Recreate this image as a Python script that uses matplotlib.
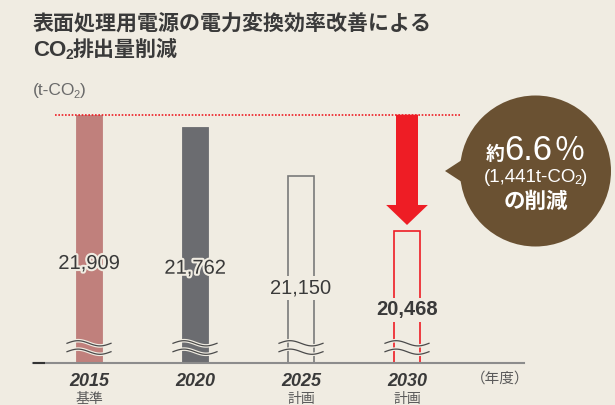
import matplotlib
matplotlib.use("Agg")
import matplotlib.pyplot as plt
import numpy as np
from matplotlib import patheffects as pe
from matplotlib.patches import Circle, Polygon, FancyArrow

# ---------------- data ----------------
years = ["2015", "2020", "2025", "2030"]
sub_labels = ["基準", "", "計画", "計画"]
values = [21909, 21762, 21150, 20468]
title_line1 = "表面処理用電源の電力変換効率改善による"
reduction_pct = "6.6"
reduction_t = "1,441"

# ---------------- style ----------------
BG = "#F0ECE2"
CJK = ["Noto Sans CJK JP", "DejaVu Sans"]
LAT = ["Liberation Sans", "DejaVu Sans"]
TXT = "#3a3a3a"
GRAY = "#5a5a5a"
RED = "#EE1D25"
BROWN = "#6A5132"
fills = ["#C0807C", "#6B6C70", "none", "none"]
edges = ["#C0807C", "#6B6C70", "#7A7A7A", RED]

W, H = 615, 405
fig = plt.figure(figsize=(W / 100, H / 100), dpi=100, facecolor=BG)

# main axes (pixel layout)
AX_L, AX_R, AX_B, AX_T = 32.7, 524.0, 362.7, 60.0
ax = fig.add_axes([AX_L / W, (H - AX_B) / H, (AX_R - AX_L) / W, (AX_B - AX_T) / H])
ax.set_facecolor("none")
base = 18828          # broken-axis baseline value
px_per_unit = 0.0805
slot = 106.0
ax.set_xlim((AX_L - 89) / slot, (AX_R - 89) / slot)
ax.set_ylim(base, base + (AX_B - AX_T) / px_per_unit)
for s in ["top", "right", "left"]:
    ax.spines[s].set_visible(False)
ax.spines["bottom"].set_color("#8C8C8C")
ax.spines["bottom"].set_linewidth(1.5)
ax.spines["bottom"].set_zorder(6)
ax.set_xticks([])
ax.set_yticks([])
ax.plot([0, 12 / (AX_R - AX_L)], [0, 0], transform=ax.transAxes, color="#333333",
        lw=1.5, clip_on=False, zorder=7, solid_capstyle="butt")

x = np.arange(len(years))
bw = 26 / slot
for i, v in enumerate(values):
    if fills[i] == "none":
        ax.bar(x[i], v - base, bottom=base, width=bw, fill=False, edgecolor=edges[i],
               linewidth=1.2, zorder=3)
    else:
        ax.bar(x[i], v - base, bottom=base, width=bw, color=fills[i], edgecolor=edges[i],
               linewidth=0.6, zorder=3)

# value labels
for i, v in enumerate(values):
    ypos = base + 0.4 * (v - base)
    kw = dict(ha="center", va="center", fontsize=14.5, family=LAT, color=TXT, zorder=8)
    if i == 3:
        kw["fontweight"] = "bold"
    if fills[i] == "none":
        kw["bbox"] = dict(boxstyle="square,pad=0.12", fc=BG, ec="none")
    else:
        kw["path_effects"] = [pe.withStroke(linewidth=3, foreground=BG)]
    ax.text(x[i], ypos, f"{v:,}", **kw)

# dotted reference line at 2015 level
ax.plot([(55 - 89) / slot, (460 - 89) / slot], [values[0], values[0]], color=RED,
        lw=1.2, linestyle=(0, (1, 1)), clip_on=False, zorder=4)

# reduction arrow from 2015 level down to 2030 bar
gap = 5.7 / px_per_unit
arr = FancyArrow(x[3], values[0], 0, (values[3] + gap) - values[0], width=22 / slot,
                 head_width=41.7 / slot, head_length=20 / px_per_unit,
                 length_includes_head=True, color=RED, lw=0, zorder=5)
ax.add_patch(arr)

# year labels
def ypx_to_axes(py):
    return (AX_B - py) / (AX_B - AX_T)

for i, yr in enumerate(years):
    ax.text(x[i], ypx_to_axes(381.7), yr, transform=ax.get_xaxis_transform(),
            ha="center", va="center", fontsize=13, family=LAT, fontweight="bold",
            fontstyle="italic", color=TXT, clip_on=False)
    if sub_labels[i]:
        ax.text(x[i], ypx_to_axes(399.5), sub_labels[i], transform=ax.get_xaxis_transform(),
                ha="center", va="center", fontsize=10, family=CJK, color=GRAY, clip_on=False)

# ---------------- overlay in pixel coords ----------------
ov = fig.add_axes([0, 0, 1, 1], zorder=5)
ov.set_xlim(0, W)
ov.set_ylim(H, 0)
ov.axis("off")
ov.patch.set_alpha(0)

fig.canvas.draw()
r = fig.canvas.get_renderer()

# break marks on bars
for i in range(len(years)):
    cx = ax.transData.transform((x[i], base))[0]
    t = np.linspace(0, 1, 60)
    for y0 in (343.3, 351.7):
        xs = cx - 22 + 44 * t
        ys = y0 - 2.6 * np.sin(2 * np.pi * t)
        ov.plot(xs, ys, color=BG, lw=2.6, solid_capstyle="butt", zorder=2)
        ov.plot(xs, ys, color="#4a4a4a", lw=0.9, zorder=3)


def rich(x0, y0, pieces, ha="left"):
    texts = []
    cur = x0
    for s, kw, dy, adv in pieces:
        t = ov.text(cur, y0 + dy, s, ha="left", va="baseline", **kw)
        bb = t.get_window_extent(renderer=r)
        cur = bb.x1 + adv
        texts.append(t)
    if ha == "center":
        shift = -(cur - x0) / 2
        for t in texts:
            px, py = t.get_position()
            t.set_position((px + shift, py))
    return texts

# title
ov.text(33, 29.5, title_line1, ha="left", va="baseline", fontsize=15.1, family=CJK,
        fontweight="bold", color=TXT)
rich(33, 55.5, [("CO", dict(fontsize=16, family=LAT, fontweight="bold", color=TXT), 0, -1),
                ("2", dict(fontsize=10, family=LAT, fontweight="bold", color=TXT), 3.5, 0),
                ("排出量削減", dict(fontsize=15.1, family=CJK, fontweight="bold", color=TXT), 0, 0)])

# unit label
rich(33, 95, [("(t-CO", dict(fontsize=12.5, family=LAT, color="#6a6a6a"), 0, -1.5),
              ("2", dict(fontsize=8, family=LAT, color="#6a6a6a"), 2.5, -0.5),
              (")", dict(fontsize=12.5, family=LAT, color="#6a6a6a"), 0, 0)])

# year unit
ov.text(500, 379, "（年度）", ha="center", va="center", fontsize=10.5, family=CJK, color=GRAY)

# speech bubble
ov.add_patch(Polygon([[445, 171], [468, 156], [468, 186]], closed=True, fc=BROWN, ec="none", zorder=1))
ov.add_patch(Circle((535.5, 171), 75.5, fc=BROWN, ec="none", zorder=1))
WH = "white"
rich(535.5, 159.5, [("約", dict(fontsize=13.5, family=CJK, color=WH, fontweight="bold"), 0, 0),
                    (reduction_pct, dict(fontsize=25, family=LAT, color=WH), 0, 1),
                    ("％", dict(fontsize=23, family=CJK, color=WH), 0, 0)], ha="center")
rich(535.5, 181.5, [("(" + reduction_t + "t-CO", dict(fontsize=13.5, family=LAT, color=WH), 0, -1.5),
                    ("2", dict(fontsize=9, family=LAT, color=WH), 2, -0.5),
                    (")", dict(fontsize=13.5, family=LAT, color=WH), 0, 0)], ha="center")
rich(535.5, 207.5, [("の削減", dict(fontsize=15.5, family=CJK, color=WH, fontweight="bold"), 0, 0)],
     ha="center")

fig.savefig("out.png", dpi=100, facecolor=BG)
